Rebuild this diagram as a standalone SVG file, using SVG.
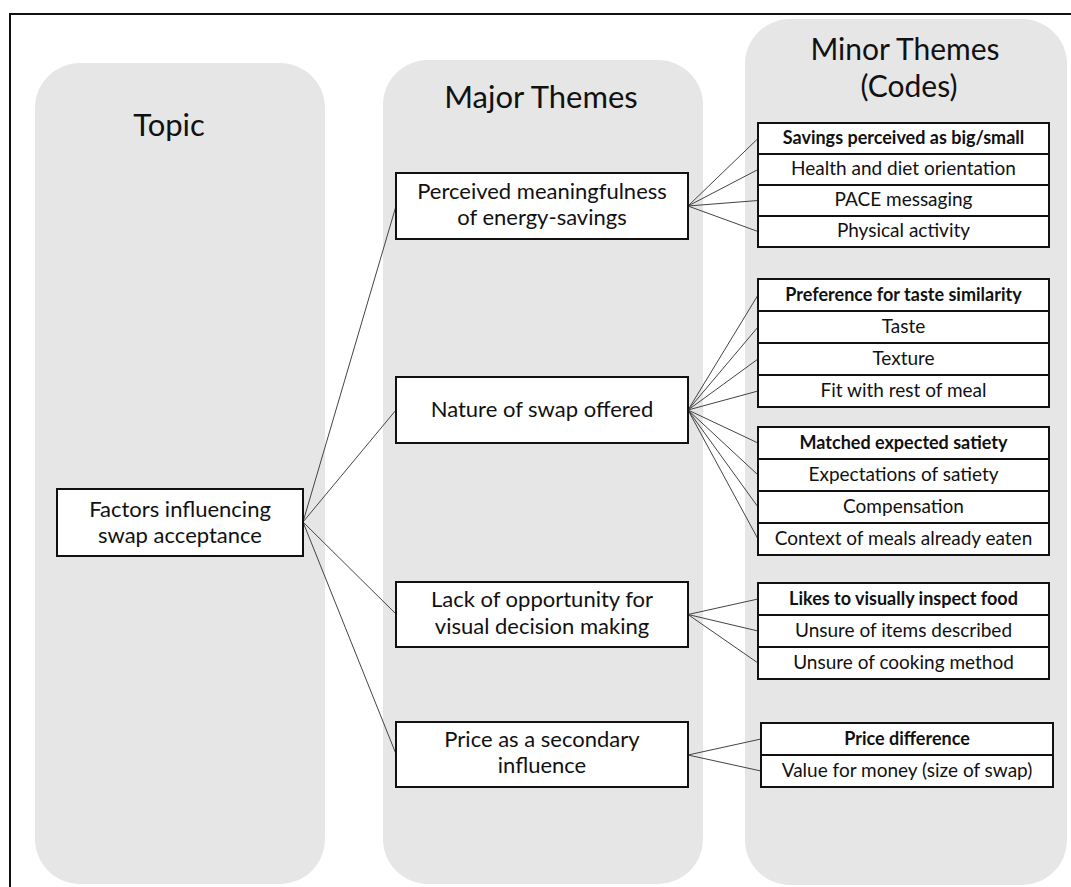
<svg xmlns="http://www.w3.org/2000/svg" width="1071" height="887" viewBox="0 0 1071 887">
<style>
.col{fill:#e6e6e6;stroke:none}
.box{fill:#fff;stroke:#111;stroke-width:2}
.t{font-family:Lato,"Open Sans","Liberation Sans",sans-serif;fill:#111;text-anchor:middle}
.title{font-size:31px}
.mj{font-size:22px}
.mn{font-size:19px}
.b{font-weight:bold;font-size:18px}
.ln{stroke:#444;stroke-width:1;fill:none}
</style>
<rect x="0" y="0" width="1071" height="887" fill="#fff"/>
<rect x="10" y="14" width="1100" height="900" fill="none" stroke="#111" stroke-width="2"/>
<g id="columns">
<rect class="col" x="35" y="63" width="290" height="821" rx="45"/>
<rect class="col" x="383" y="60" width="320" height="824" rx="45"/>
<rect class="col" x="745" y="19" width="322" height="866" rx="45"/>
<text class="t title" x="169" y="136">Topic</text>
<text class="t title" x="541" y="108">Major Themes</text>
<text class="t title" x="905" y="60" style="font-size:30px">Minor Themes</text>
<text class="t title" x="909" y="97" style="font-size:30px">(Codes)</text>
</g>
<g id="connectors">
<path class="ln" d="M303 522L396 206M303 522L396 410M303 522L396 614M303 522L396 754"/>
<path class="ln" d="M688 206L758 138.5M688 206L758 169.5M688 206L758 200.5M688 206L758 231.5"/>
<path class="ln" d="M688 410L758 295M688 410L758 327M688 410L758 359M688 410L758 391M688 410L758 443M688 410L758 475M688 410L758 507M688 410L758 539"/>
<path class="ln" d="M688 614.5L758 599M688 614.5L758 631M688 614.5L758 663"/>
<path class="ln" d="M688 755L761 739M688 755L761 771"/>
</g>
<g id="topic">
<rect class="box" x="57" y="489" width="246" height="67"/>
<text class="t mj" x="180" y="517">Factors influencing</text>
<text class="t mj" x="180" y="543">swap acceptance</text>
</g>
<g id="major-perceived">
<rect class="box" x="396" y="173" width="292" height="66"/>
<text class="t mj" x="542" y="199">Perceived meaningfulness</text>
<text class="t mj" x="542" y="225">of energy-savings</text>
</g>
<g id="major-nature">
<rect class="box" x="396" y="377" width="292" height="66"/>
<text class="t mj" x="542" y="417">Nature of swap offered</text>
</g>
<g id="major-lack">
<rect class="box" x="396" y="582" width="292" height="65"/>
<text class="t mj" x="542" y="607">Lack of opportunity for</text>
<text class="t mj" x="542" y="634">visual decision making</text>
</g>
<g id="major-price">
<rect class="box" x="396" y="722" width="292" height="65"/>
<text class="t mj" x="542" y="747">Price as a secondary</text>
<text class="t mj" x="542" y="773">influence</text>
</g>
<g id="minor-savings">
<rect class="box" x="758" y="123" width="291" height="31"/>
<rect class="box" x="758" y="154" width="291" height="31"/>
<rect class="box" x="758" y="185" width="291" height="31"/>
<rect class="box" x="758" y="216" width="291" height="31"/>
<text class="t mn b" x="903.5" y="144">Savings perceived as big/small</text>
<text class="t mn" x="903.5" y="175">Health and diet orientation</text>
<text class="t mn" x="903.5" y="206">PACE messaging</text>
<text class="t mn" x="903.5" y="237">Physical activity</text>
</g>
<g id="minor-taste">
<rect class="box" x="758" y="279" width="291" height="32"/>
<rect class="box" x="758" y="311" width="291" height="32"/>
<rect class="box" x="758" y="343" width="291" height="32"/>
<rect class="box" x="758" y="375" width="291" height="32"/>
<text class="t mn b" x="903.5" y="301">Preference for taste similarity</text>
<text class="t mn" x="903.5" y="333">Taste</text>
<text class="t mn" x="903.5" y="365">Texture</text>
<text class="t mn" x="903.5" y="397">Fit with rest of meal</text>
</g>
<g id="minor-satiety">
<rect class="box" x="758" y="427" width="291" height="32"/>
<rect class="box" x="758" y="459" width="291" height="32"/>
<rect class="box" x="758" y="491" width="291" height="32"/>
<rect class="box" x="758" y="523" width="291" height="32"/>
<text class="t mn b" x="903.5" y="449">Matched expected satiety</text>
<text class="t mn" x="903.5" y="481">Expectations of satiety</text>
<text class="t mn" x="903.5" y="513">Compensation</text>
<text class="t mn" x="903.5" y="545">Context of meals already eaten</text>
</g>
<g id="minor-visual">
<rect class="box" x="758" y="583" width="291" height="32"/>
<rect class="box" x="758" y="615" width="291" height="32"/>
<rect class="box" x="758" y="647" width="291" height="32"/>
<text class="t mn b" x="903.5" y="605">Likes to visually inspect food</text>
<text class="t mn" x="903.5" y="637">Unsure of items described</text>
<text class="t mn" x="903.5" y="669">Unsure of cooking method</text>
</g>
<g id="minor-price">
<rect class="box" x="761" y="723" width="292" height="32"/>
<rect class="box" x="761" y="755" width="292" height="32"/>
<text class="t mn b" x="907" y="745">Price difference</text>
<text class="t mn" x="907" y="777">Value for money (size of swap)</text>
</g>
</svg>
